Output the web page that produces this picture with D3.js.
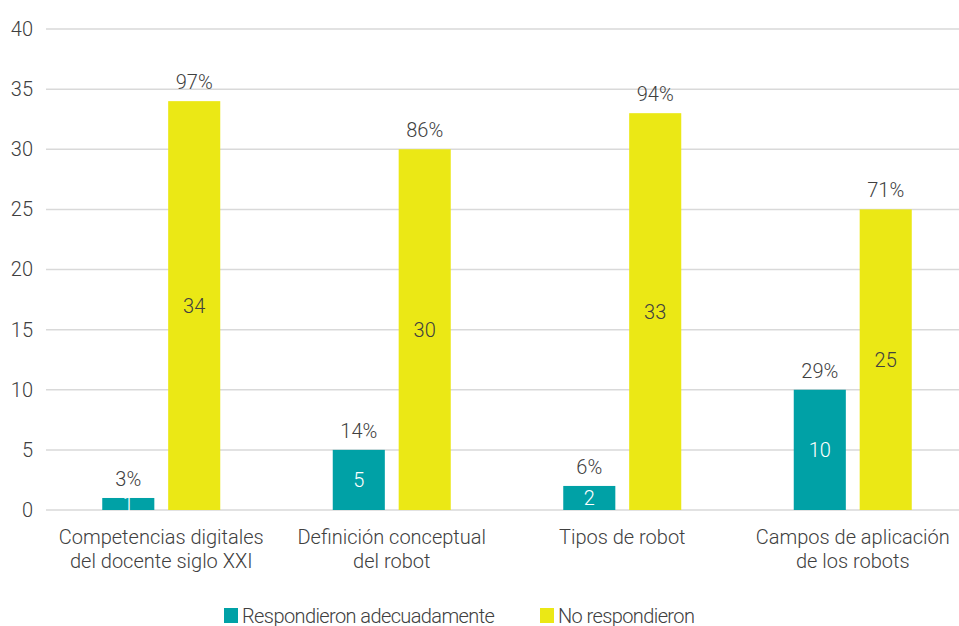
<!DOCTYPE html>
<html>
<head>
<meta charset="utf-8">
<script src="https://cdn.jsdelivr.net/npm/d3@7"></script>
<style>
  body { margin: 0; background: #fff; }
  svg { display: block; font-family: Roboto, sans-serif; font-weight: 300; }
</style>
</head>
<body>
<svg id="chart" width="959" height="626"></svg>
<script>
const categories = [
  ["Competencias digitales", "del docente siglo XXI"],
  ["Definición conceptual", "del robot"],
  ["Tipos de robot"],
  ["Campos de aplicación", "de los robots"]
];
const seriesNames = ["Respondieron adecuadamente", "No respondieron"];
const respondieron = [1, 5, 2, 10];
const noRespondieron = [34, 30, 33, 25];
const pctRespondieron = ["3%", "14%", "6%", "29%"];
const pctNo = ["97%", "86%", "94%", "71%"];
const yTicks = [0, 5, 10, 15, 20, 25, 30, 35, 40];

const colors = ["#00a1a6", "#ebe815"];
const textColor = "#404040";

const svg = d3.select("#chart");
const margin = { left: 46, top: 29, bottom: 116 };
const width = 922;
const height = 626 - margin.top - margin.bottom;

const x0 = d3.scaleBand()
  .domain(d3.range(categories.length))
  .range([margin.left, margin.left + width]);

const x1 = d3.scaleBand()
  .domain([0, 1])
  .range([0, 118])
  .paddingInner(0.21);

const y = d3.scaleLinear()
  .domain([0, 40])
  .range([margin.top + height, margin.top]);

// grid
svg.append("g")
  .selectAll("line")
  .data(yTicks)
  .enter().append("line")
  .attr("x1", margin.left)
  .attr("x2", margin.left + width)
  .attr("y1", d => y(d))
  .attr("y2", d => y(d))
  .attr("stroke", "#d9d9d9")
  .attr("stroke-width", 1.5);

// y axis labels
const yAxis = d3.axisLeft(y).tickValues(yTicks).tickSize(0).tickPadding(13);
svg.append("g")
  .attr("transform", `translate(${margin.left},0)`)
  .call(yAxis)
  .call(g => g.select(".domain").remove())
  .call(g => g.selectAll("text")
    .attr("fill", textColor)
    .style("font-size", "20px")
    .style("font-family", "Roboto, sans-serif")
    .style("font-weight", 300));

const rows = categories.map((c, i) => ({
  i: i,
  vals: [
    { s: 0, v: respondieron[i], pct: pctRespondieron[i] },
    { s: 1, v: noRespondieron[i], pct: pctNo[i] }
  ]
}));

const groups = svg.append("g")
  .selectAll("g")
  .data(rows)
  .enter().append("g")
  .attr("transform", d => `translate(${x0(d.i) + x0.bandwidth() / 2 - 59},0)`);

groups.selectAll("rect")
  .data(d => d.vals)
  .enter().append("rect")
  .attr("x", d => x1(d.s))
  .attr("y", d => y(d.v))
  .attr("width", x1.bandwidth())
  .attr("height", d => y(0) - y(d.v))
  .attr("fill", d => colors[d.s]);

// value labels inside bars
groups.selectAll("text.val")
  .data(d => d.vals)
  .enter().append("text")
  .attr("class", "val")
  .attr("x", d => x1(d.s) + x1.bandwidth() / 2)
  .attr("y", d => (y(d.v) + y(0)) / 2)
  .attr("dy", "0.36em")
  .attr("text-anchor", "middle")
  .attr("fill", d => d.s === 0 ? "#ffffff" : textColor)
  .style("font-size", "20px")
  .text(d => d.v);

// percent labels above bars
groups.selectAll("text.pct")
  .data(d => d.vals)
  .enter().append("text")
  .attr("class", "pct")
  .attr("x", d => x1(d.s) + x1.bandwidth() / 2)
  .attr("y", d => y(d.v) - 12)
  .attr("text-anchor", "middle")
  .attr("fill", textColor)
  .style("font-size", "20px")
  .text(d => d.pct);

// category labels
const catLabels = svg.append("g")
  .selectAll("text")
  .data(categories)
  .enter().append("text")
  .attr("x", (d, i) => x0(i) + x0.bandwidth() / 2)
  .attr("y", y(0) + 34)
  .attr("text-anchor", "middle")
  .attr("fill", textColor)
  .style("font-size", "20px");

catLabels.selectAll("tspan")
  .data(d => d)
  .enter().append("tspan")
  .attr("x", function() { return d3.select(this.parentNode).attr("x"); })
  .attr("dy", (d, i) => i === 0 ? 0 : 24)
  .text(d => d);

// legend
const legendX = [224, 540];
const legend = svg.append("g")
  .selectAll("g")
  .data(seriesNames)
  .enter().append("g")
  .attr("transform", (d, i) => `translate(${legendX[i]},608)`);

legend.append("rect")
  .attr("width", 14)
  .attr("height", 15)
  .attr("fill", (d, i) => colors[i]);

legend.append("text")
  .attr("x", 18)
  .attr("y", 15)
  .attr("fill", textColor)
  .style("font-size", "20px")
  .style("letter-spacing", "-0.6px")
  .text(d => d);
</script>
</body>
</html>
